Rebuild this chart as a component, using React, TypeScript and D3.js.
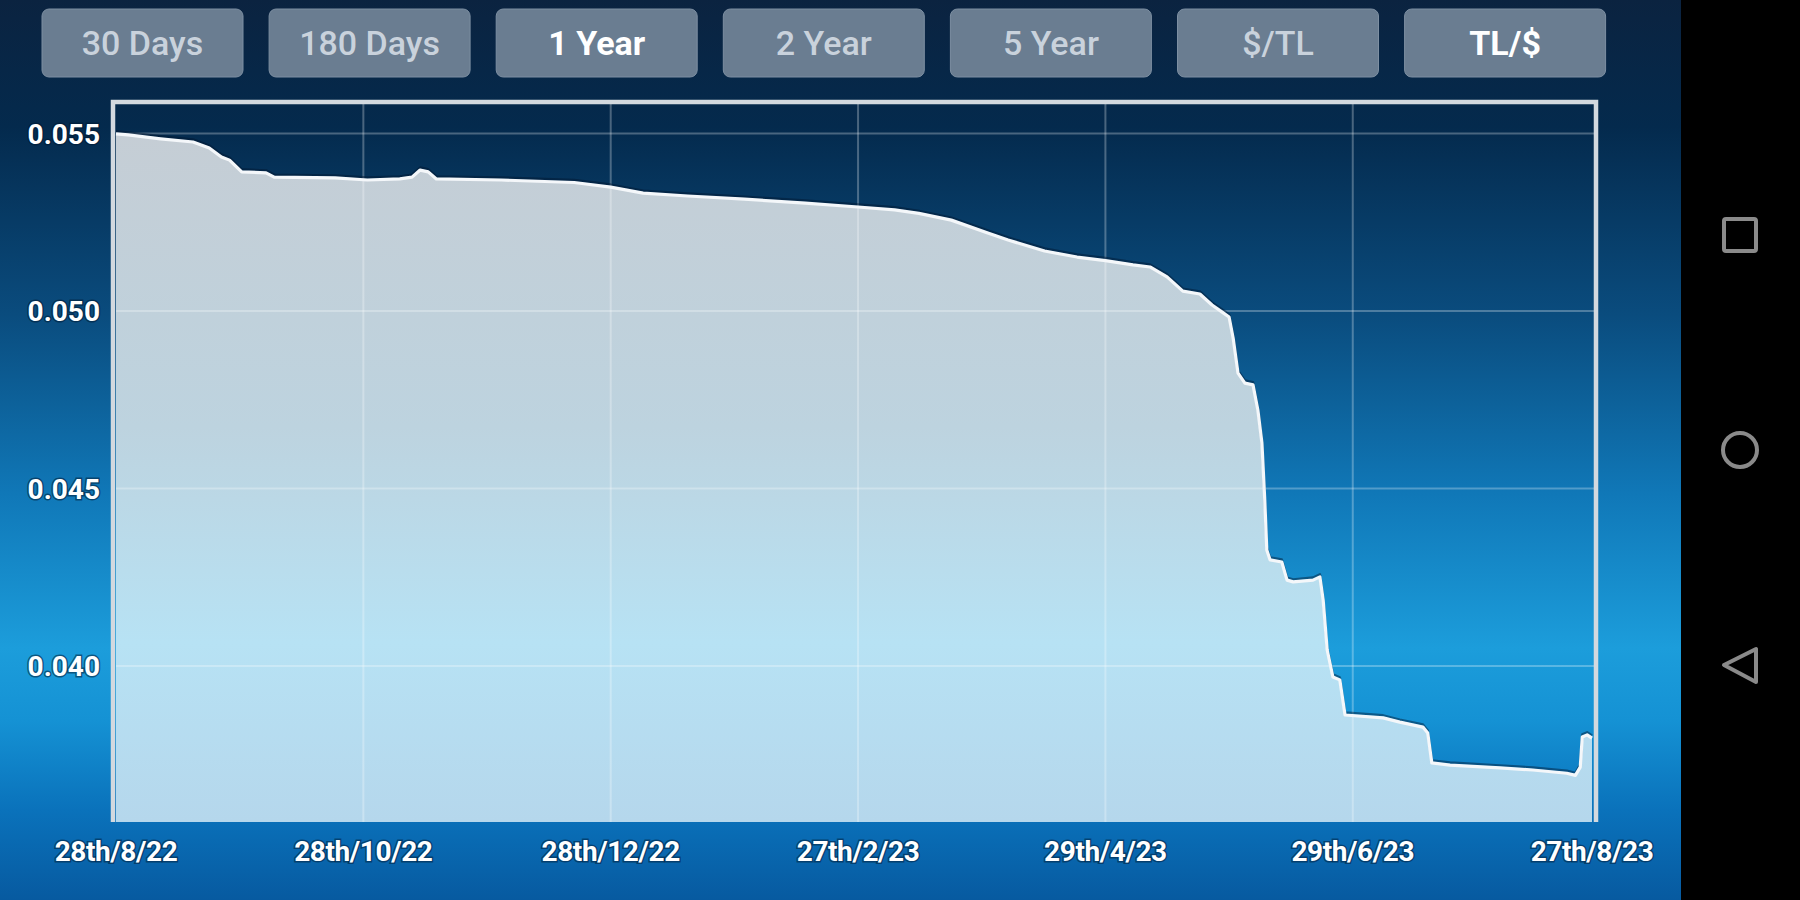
import React, { useEffect } from "react";
import * as d3 from "d3";

// ---- data ----
const startDate = "2022-08-28";
const dayOffsets = [0, 3, 11, 19, 23, 26, 28, 31, 37, 39, 54, 62, 70, 73, 75, 77, 79, 95, 113, 122, 130, 141, 155, 170, 183, 192, 198, 206, 215, 220, 229, 237, 244, 250.8, 255, 259.2, 263.1, 267.3, 270.3, 272.8, 274.5, 275.5, 276.7, 278.4, 280.4, 281.6, 282.6, 283.3, 283.8, 284.6, 287.5, 288.8, 290.3, 295.2, 296.9, 297.7, 298.7, 300.1, 301.8, 303.1, 312.5, 316.6, 322.3, 323.5, 324.5, 329, 341.3, 349.4, 357.8, 359.9, 361.1, 361.6, 362.8, 364];
const rates = [0.05499, 0.05496, 0.05485, 0.05476, 0.05459, 0.05434, 0.05425, 0.05392, 0.05389, 0.05377, 0.05375, 0.05369, 0.05372, 0.05377, 0.05397, 0.05392, 0.05372, 0.05369, 0.05362, 0.05349, 0.05332, 0.05324, 0.05315, 0.05304, 0.05293, 0.05285, 0.05275, 0.05256, 0.0522, 0.052, 0.05169, 0.05152, 0.05142, 0.0513, 0.05124, 0.05096, 0.05056, 0.05048, 0.05017, 0.04997, 0.04983, 0.04924, 0.04825, 0.04797, 0.04792, 0.04721, 0.04628, 0.04468, 0.04327, 0.04299, 0.04293, 0.04242, 0.04237, 0.04242, 0.04251, 0.04186, 0.04045, 0.03969, 0.03961, 0.03862, 0.03854, 0.03842, 0.03828, 0.03811, 0.03727, 0.03721, 0.03713, 0.03707, 0.03698, 0.03692, 0.03715, 0.038, 0.03806, 0.03797];
const xTickDates = ["2022-08-28", "2022-10-28", "2022-12-28", "2023-02-27", "2023-04-29", "2023-06-29", "2023-08-27"];
const xTickLabels = ["28th/8/22", "28th/10/22", "28th/12/22", "27th/2/23", "29th/4/23", "29th/6/23", "27th/8/23"];
const yTicks = [0.04, 0.045, 0.05, 0.055];
const yDomain = [0.035606, 0.055831];
const buttons = ["30 Days", "180 Days", "1 Year", "2 Year", "5 Year", "$/TL", "TL/$"];
const activeButtons = ["1 Year", "TL/$"];

const parse = d3.utcParse("%Y-%m-%d");

export default function App() {
  useEffect(() => {
    document.body.style.margin = "0";
    document.body.style.overflow = "hidden";
  }, []);

  const W = 1800, H = 900;
  const plotL = 116, plotR = 1594, plotT = 104, plotB = 822;
  const start = parse(startDate) as Date;
  const end = parse(xTickDates[xTickDates.length - 1]) as Date;
  const x = d3.scaleUtc().domain([start, end]).range([116, 1592]);
  const y = d3.scaleLinear().domain(yDomain).range([plotB, plotT]);

  const data = dayOffsets.map((d, i) => ({
    date: new Date(start.getTime() + d * 86400000),
    v: rates[i],
  }));

  const area = d3.area<{ date: Date; v: number }>()
    .x((d) => x(d.date)).y0(plotB).y1((d) => y(d.v));
  const line = d3.line<{ date: Date; v: number }>()
    .x((d) => x(d.date)).y((d) => y(d.v));

  const btnX = d3.scaleLinear().domain([0, 1]).range([42, 42 + 227.1]);

  return (
    <svg width={W} height={H} style={{ position: "absolute", left: 0, top: 0, display: "block" }}
      fontFamily="Roboto, 'Open Sans', sans-serif">
      <defs>
        <linearGradient id="bg" x1="0" y1="0" x2="0" y2="1">
          <stop offset="0" stopColor="#0b2340" />
          <stop offset="0.14" stopColor="#042a4d" />
          <stop offset="0.35" stopColor="#0a4c7e" />
          <stop offset="0.55" stopColor="#1078b8" />
          <stop offset="0.72" stopColor="#1c9ddb" />
          <stop offset="0.8" stopColor="#1592d4" />
          <stop offset="0.9" stopColor="#0a72bb" />
          <stop offset="1" stopColor="#075aa0" />
        </linearGradient>
        <linearGradient id="fill" x1="0" y1={plotT} x2="0" y2={plotB} gradientUnits="userSpaceOnUse">
          <stop offset="0" stopColor="#c6cdd4" />
          <stop offset="0.45" stopColor="#bdd3df" />
          <stop offset="0.75" stopColor="#b7e2f4" />
          <stop offset="1" stopColor="#b5d7ec" />
        </linearGradient>
      </defs>

      <rect x={0} y={0} width={W} height={H} fill="url(#bg)" />
      <rect x={1681} y={0} width={119} height={H} fill="#000" />

      {/* nav icons */}
      <g fill="none" stroke="#8a8a8a" strokeWidth={4}>
        <rect x={1724} y={219} width={32} height={32} rx={2} />
        <circle cx={1740} cy={450} r={17} />
        <path d="M1724,665 L1756,649 L1756,682 Z" strokeLinejoin="round" />
      </g>

      {/* buttons */}
      {buttons.map((b, i) => {
        const bx = btnX(i);
        const active = activeButtons.includes(b);
        return (
          <g key={b}>
            <rect x={bx} y={9} width={201} height={68} rx={7} fill="#6a7d91" stroke="#7d8fa2" strokeWidth={1} />
            <text x={bx + 100.5} y={55} textAnchor="middle" fontSize={34}
              fontWeight={active ? 700 : 500} fill={active ? "#ffffff" : "#c9d2dc"}>{b}</text>
          </g>
        );
      })}

      {/* area */}
      <path d={area(data) || ""} fill="url(#fill)" />

      {/* grid */}
      <g stroke="rgba(255,255,255,0.28)" strokeWidth={2}>
        {yTicks.map((t) => (
          <line key={t} x1={plotL} x2={plotR} y1={y(t)} y2={y(t)} />
        ))}
        {xTickDates.slice(1, -1).map((t) => (
          <line key={t} x1={x(parse(t) as Date)} x2={x(parse(t) as Date)} y1={plotT} y2={plotB} />
        ))}
      </g>

      {/* line with dark shadow */}
      <path d={line(data) || ""} fill="none" stroke="rgba(0,20,45,0.45)" strokeWidth={2.5} transform="translate(0,-2.5)" strokeLinejoin="round" />
      <path d={line(data) || ""} fill="none" stroke="#f4f7fa" strokeWidth={3.2} strokeLinejoin="round" />

      {/* frame */}
      <path d={`M${plotL - 3},${plotB} L${plotL - 3},${plotT - 2} L${plotR + 2},${plotT - 2} L${plotR + 2},${plotB}`}
        fill="none" stroke="#d3d9df" strokeWidth={4.5} />

      {/* y labels */}
      <g fontSize={28} fontWeight={700} fill="#ffffff" textAnchor="end"
        stroke="rgba(0,25,50,0.55)" strokeWidth={3} style={{ paintOrder: "stroke" }}>
        {yTicks.map((t) => (
          <text key={t} x={100} y={y(t) + 10}>{d3.format(".3f")(t)}</text>
        ))}
      </g>

      {/* x labels */}
      <g fontSize={28} fontWeight={700} fill="#ffffff" textAnchor="middle" letterSpacing={-0.4}
        stroke="rgba(0,25,50,0.5)" strokeWidth={3} style={{ paintOrder: "stroke" }}>
        {xTickDates.map((t, i) => (
          <text key={t} x={x(parse(t) as Date)} y={861}>{xTickLabels[i]}</text>
        ))}
      </g>
    </svg>
  );
}
